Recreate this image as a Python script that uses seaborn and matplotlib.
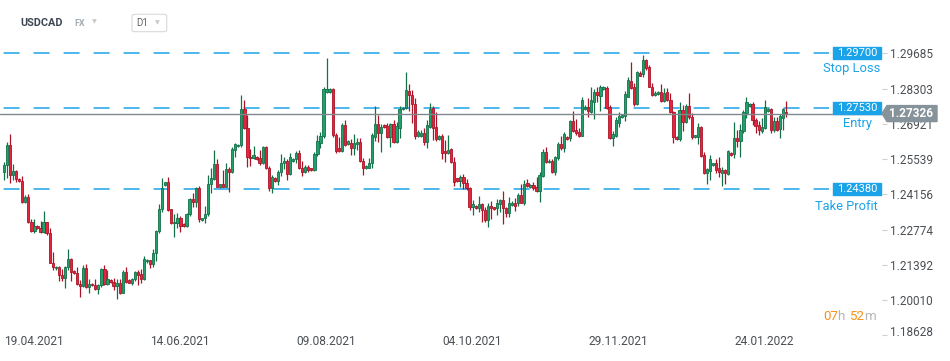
import numpy as np
import pandas as pd
import matplotlib
matplotlib.use("Agg")
import matplotlib.pyplot as plt
import matplotlib.transforms as mtransforms
import seaborn as sns
from matplotlib.patches import Rectangle, Polygon, FancyBboxPatch

# ---------------- data (USDCAD daily) ----------------
open_ = [
    1.2505, 1.2531, 1.2609, 1.2492, 1.2507, 1.2475,
    1.2470, 1.2387, 1.2404, 1.2309, 1.2273, 1.2293,
    1.2284, 1.2270, 1.2306, 1.2263, 1.2148, 1.2126,
    1.2132, 1.2098, 1.2089, 1.2132, 1.2161, 1.2115,
    1.2106, 1.2063, 1.2058, 1.2126, 1.2054, 1.2066,
    1.2060, 1.2043, 1.2060, 1.2123, 1.2064, 1.2080,
    1.2072, 1.2056, 1.2067, 1.2030, 1.2110, 1.2080,
    1.2070, 1.2084, 1.2110, 1.2105, 1.2086, 1.2155,
    1.2158, 1.2141, 1.2187, 1.2272, 1.2357, 1.2454,
    1.2463, 1.2357, 1.2302, 1.2305, 1.2322, 1.2300,
    1.2292, 1.2339, 1.2396, 1.2387, 1.2442, 1.2314,
    1.2322, 1.2339, 1.2455, 1.2475, 1.2534, 1.2445,
    1.2455, 1.2446, 1.2514, 1.2505, 1.2590, 1.2605,
    1.2610, 1.2749, 1.2675, 1.2561, 1.2557, 1.2564,
    1.2560, 1.2540, 1.2600, 1.2518, 1.2442, 1.2480,
    1.2468, 1.2502, 1.2537, 1.2547, 1.2494, 1.2546,
    1.2555, 1.2577, 1.2518, 1.2502, 1.2523, 1.2518,
    1.2510, 1.2574, 1.2618, 1.2643, 1.2817, 1.2818,
    1.2829, 1.2648, 1.2596, 1.2587, 1.2686, 1.2612,
    1.2616, 1.2599, 1.2614, 1.2621, 1.2548, 1.2520,
    1.2520, 1.2539, 1.2642, 1.2692, 1.2658, 1.2686,
    1.2684, 1.2642, 1.2692, 1.2622, 1.2677, 1.2750,
    1.2753, 1.2821, 1.2805, 1.2769, 1.2646, 1.2645,
    1.2655, 1.2622, 1.2680, 1.2753, 1.2679, 1.2634,
    1.2645, 1.2586, 1.2577, 1.2594, 1.2544, 1.2479,
    1.2469, 1.2484, 1.2459, 1.2439, 1.2365, 1.2372,
    1.2361, 1.2378, 1.2354, 1.2315, 1.2370, 1.2365,
    1.2361, 1.2378, 1.2394, 1.2364, 1.2341, 1.2374,
    1.2384, 1.2381, 1.2413, 1.2383, 1.2459, 1.2445,
    1.2452, 1.2446, 1.2430, 1.2488, 1.2581, 1.2541,
    1.2545, 1.2505, 1.2557, 1.2613, 1.2596, 1.2642,
    1.2638, 1.2703, 1.2668, 1.2659, 1.2646, 1.2750,
    1.2760, 1.2740, 1.2779, 1.2817, 1.2801, 1.2828,
    1.2831, 1.2760, 1.2638, 1.2645, 1.2697, 1.2720,
    1.2723, 1.2799, 1.2860, 1.2838, 1.2770, 1.2893,
    1.2886, 1.2943, 1.2916, 1.2838, 1.2805, 1.2810,
    1.2818, 1.2783, 1.2816, 1.2786, 1.2737, 1.2642,
    1.2631, 1.2746, 1.2700, 1.2762, 1.2720, 1.2639,
    1.2642, 1.2679, 1.2570, 1.2501, 1.2509, 1.2530,
    1.2537, 1.2520, 1.2501, 1.2511, 1.2494, 1.2577,
    1.2573, 1.2637, 1.2626, 1.2664, 1.2735, 1.2762,
    1.2770, 1.2707, 1.2688, 1.2666, 1.2675, 1.2743,
    1.2749, 1.2668, 1.2703, 1.2671, 1.2714, 1.2739,
]
high = [
    1.2544, 1.2622, 1.2652, 1.2535, 1.2511, 1.2480,
    1.2488, 1.2413, 1.2417, 1.2319, 1.2319, 1.2296,
    1.2313, 1.2349, 1.2309, 1.2286, 1.2190, 1.2135,
    1.2135, 1.2122, 1.2135, 1.2200, 1.2165, 1.2118,
    1.2132, 1.2080, 1.2138, 1.2143, 1.2083, 1.2070,
    1.2083, 1.2063, 1.2127, 1.2139, 1.2119, 1.2085,
    1.2088, 1.2085, 1.2086, 1.2119, 1.2130, 1.2083,
    1.2090, 1.2115, 1.2119, 1.2122, 1.2175, 1.2162,
    1.2160, 1.2202, 1.2277, 1.2378, 1.2479, 1.2466,
    1.2484, 1.2360, 1.2337, 1.2341, 1.2330, 1.2305,
    1.2341, 1.2400, 1.2420, 1.2446, 1.2450, 1.2325,
    1.2370, 1.2492, 1.2518, 1.2590, 1.2554, 1.2457,
    1.2511, 1.2537, 1.2524, 1.2603, 1.2617, 1.2614,
    1.2805, 1.2786, 1.2727, 1.2592, 1.2605, 1.2567,
    1.2590, 1.2605, 1.2605, 1.2527, 1.2492, 1.2484,
    1.2511, 1.2574, 1.2564, 1.2555, 1.2579, 1.2560,
    1.2586, 1.2590, 1.2547, 1.2530, 1.2530, 1.2520,
    1.2581, 1.2648, 1.2659, 1.2835, 1.2950, 1.2832,
    1.2834, 1.2655, 1.2642, 1.2696, 1.2707, 1.2628,
    1.2634, 1.2652, 1.2637, 1.2635, 1.2560, 1.2532,
    1.2560, 1.2655, 1.2762, 1.2727, 1.2690, 1.2690,
    1.2694, 1.2697, 1.2707, 1.2701, 1.2762, 1.2760,
    1.2896, 1.2848, 1.2825, 1.2792, 1.2670, 1.2668,
    1.2675, 1.2707, 1.2773, 1.2762, 1.2737, 1.2648,
    1.2651, 1.2629, 1.2648, 1.2599, 1.2564, 1.2482,
    1.2492, 1.2496, 1.2475, 1.2446, 1.2394, 1.2376,
    1.2409, 1.2383, 1.2368, 1.2381, 1.2390, 1.2368,
    1.2396, 1.2399, 1.2429, 1.2368, 1.2404, 1.2388,
    1.2400, 1.2420, 1.2456, 1.2472, 1.2475, 1.2455,
    1.2466, 1.2485, 1.2503, 1.2592, 1.2600, 1.2553,
    1.2553, 1.2567, 1.2620, 1.2643, 1.2659, 1.2645,
    1.2707, 1.2743, 1.2711, 1.2675, 1.2796, 1.2765,
    1.2792, 1.2838, 1.2830, 1.2838, 1.2845, 1.2840,
    1.2841, 1.2766, 1.2664, 1.2720, 1.2740, 1.2730,
    1.2821, 1.2875, 1.2935, 1.2854, 1.2901, 1.2898,
    1.2962, 1.2948, 1.2922, 1.2854, 1.2820, 1.2822,
    1.2850, 1.2831, 1.2831, 1.2814, 1.2743, 1.2645,
    1.2779, 1.2766, 1.2769, 1.2814, 1.2733, 1.2650,
    1.2697, 1.2684, 1.2581, 1.2520, 1.2569, 1.2540,
    1.2554, 1.2561, 1.2524, 1.2514, 1.2590, 1.2581,
    1.2701, 1.2668, 1.2690, 1.2746, 1.2799, 1.2776,
    1.2779, 1.2714, 1.2705, 1.2714, 1.2786, 1.2755,
    1.2753, 1.2718, 1.2718, 1.2730, 1.2756, 1.2782,
]
low = [
    1.2472, 1.2479, 1.2459, 1.2472, 1.2466, 1.2466,
    1.2381, 1.2381, 1.2305, 1.2270, 1.2266, 1.2279,
    1.2266, 1.2263, 1.2256, 1.2145, 1.2119, 1.2120,
    1.2077, 1.2077, 1.2047, 1.2119, 1.2077, 1.2104,
    1.2059, 1.2012, 1.2054, 1.2047, 1.2028, 1.2055,
    1.2041, 1.2025, 1.2054, 1.2060, 1.2060, 1.2068,
    1.2041, 1.2007, 1.2025, 1.2028, 1.2070, 1.2068,
    1.2060, 1.2075, 1.2059, 1.2070, 1.2080, 1.2148,
    1.2128, 1.2132, 1.2156, 1.2263, 1.2348, 1.2450,
    1.2352, 1.2298, 1.2250, 1.2283, 1.2270, 1.2288,
    1.2289, 1.2332, 1.2365, 1.2368, 1.2309, 1.2310,
    1.2302, 1.2330, 1.2422, 1.2472, 1.2443, 1.2442,
    1.2443, 1.2443, 1.2426, 1.2500, 1.2561, 1.2600,
    1.2603, 1.2671, 1.2524, 1.2527, 1.2554, 1.2550,
    1.2531, 1.2535, 1.2515, 1.2430, 1.2422, 1.2465,
    1.2452, 1.2488, 1.2514, 1.2472, 1.2492, 1.2542,
    1.2537, 1.2514, 1.2489, 1.2501, 1.2502, 1.2508,
    1.2509, 1.2566, 1.2599, 1.2635, 1.2812, 1.2815,
    1.2642, 1.2579, 1.2583, 1.2582, 1.2605, 1.2610,
    1.2570, 1.2570, 1.2590, 1.2544, 1.2492, 1.2516,
    1.2518, 1.2519, 1.2625, 1.2622, 1.2583, 1.2675,
    1.2638, 1.2603, 1.2618, 1.2618, 1.2638, 1.2745,
    1.2750, 1.2744, 1.2697, 1.2634, 1.2640, 1.2640,
    1.2609, 1.2596, 1.2675, 1.2629, 1.2626, 1.2630,
    1.2556, 1.2544, 1.2573, 1.2537, 1.2449, 1.2466,
    1.2446, 1.2435, 1.2433, 1.2354, 1.2335, 1.2358,
    1.2348, 1.2309, 1.2309, 1.2289, 1.2319, 1.2354,
    1.2335, 1.2348, 1.2300, 1.2328, 1.2328, 1.2370,
    1.2352, 1.2370, 1.2381, 1.2374, 1.2446, 1.2440,
    1.2433, 1.2426, 1.2387, 1.2484, 1.2537, 1.2538,
    1.2501, 1.2492, 1.2551, 1.2590, 1.2583, 1.2630,
    1.2626, 1.2662, 1.2648, 1.2642, 1.2645, 1.2745,
    1.2720, 1.2736, 1.2713, 1.2779, 1.2744, 1.2825,
    1.2749, 1.2633, 1.2605, 1.2639, 1.2679, 1.2715,
    1.2703, 1.2796, 1.2828, 1.2762, 1.2766, 1.2878,
    1.2876, 1.2903, 1.2835, 1.2801, 1.2800, 1.2805,
    1.2778, 1.2778, 1.2782, 1.2733, 1.2618, 1.2628,
    1.2626, 1.2666, 1.2696, 1.2713, 1.2631, 1.2635,
    1.2613, 1.2564, 1.2496, 1.2455, 1.2472, 1.2526,
    1.2501, 1.2485, 1.2449, 1.2455, 1.2492, 1.2565,
    1.2557, 1.2600, 1.2561, 1.2655, 1.2714, 1.2758,
    1.2688, 1.2655, 1.2648, 1.2658, 1.2671, 1.2740,
    1.2658, 1.2662, 1.2666, 1.2638, 1.2668, 1.2720,
]
close = [
    1.2531, 1.2609, 1.2492, 1.2507, 1.2475, 1.2470,
    1.2387, 1.2404, 1.2309, 1.2273, 1.2293, 1.2284,
    1.2270, 1.2306, 1.2263, 1.2148, 1.2132, 1.2132,
    1.2098, 1.2089, 1.2132, 1.2161, 1.2113, 1.2106,
    1.2063, 1.2058, 1.2126, 1.2054, 1.2064, 1.2060,
    1.2043, 1.2060, 1.2123, 1.2064, 1.2083, 1.2072,
    1.2056, 1.2067, 1.2030, 1.2110, 1.2073, 1.2070,
    1.2084, 1.2110, 1.2100, 1.2086, 1.2161, 1.2160,
    1.2141, 1.2187, 1.2272, 1.2357, 1.2439, 1.2463,
    1.2354, 1.2302, 1.2309, 1.2322, 1.2293, 1.2292,
    1.2339, 1.2396, 1.2387, 1.2442, 1.2319, 1.2322,
    1.2339, 1.2455, 1.2480, 1.2534, 1.2446, 1.2455,
    1.2446, 1.2514, 1.2505, 1.2594, 1.2612, 1.2610,
    1.2749, 1.2675, 1.2561, 1.2557, 1.2569, 1.2553,
    1.2540, 1.2600, 1.2518, 1.2442, 1.2484, 1.2468,
    1.2502, 1.2537, 1.2547, 1.2494, 1.2561, 1.2555,
    1.2577, 1.2518, 1.2502, 1.2523, 1.2510, 1.2510,
    1.2574, 1.2625, 1.2643, 1.2828, 1.2828, 1.2828,
    1.2648, 1.2587, 1.2587, 1.2686, 1.2609, 1.2624,
    1.2599, 1.2616, 1.2621, 1.2548, 1.2520, 1.2529,
    1.2539, 1.2648, 1.2692, 1.2658, 1.2681, 1.2679,
    1.2642, 1.2692, 1.2622, 1.2684, 1.2750, 1.2755,
    1.2825, 1.2805, 1.2769, 1.2646, 1.2659, 1.2655,
    1.2622, 1.2686, 1.2750, 1.2675, 1.2633, 1.2645,
    1.2579, 1.2577, 1.2590, 1.2544, 1.2466, 1.2469,
    1.2484, 1.2459, 1.2439, 1.2365, 1.2378, 1.2361,
    1.2378, 1.2354, 1.2315, 1.2370, 1.2361, 1.2357,
    1.2381, 1.2394, 1.2361, 1.2341, 1.2381, 1.2384,
    1.2371, 1.2413, 1.2383, 1.2456, 1.2450, 1.2452,
    1.2439, 1.2430, 1.2492, 1.2581, 1.2541, 1.2548,
    1.2505, 1.2562, 1.2613, 1.2596, 1.2651, 1.2634,
    1.2703, 1.2664, 1.2655, 1.2646, 1.2786, 1.2760,
    1.2744, 1.2784, 1.2817, 1.2804, 1.2838, 1.2835,
    1.2753, 1.2638, 1.2651, 1.2707, 1.2723, 1.2727,
    1.2809, 1.2864, 1.2831, 1.2770, 1.2896, 1.2881,
    1.2943, 1.2910, 1.2838, 1.2805, 1.2814, 1.2817,
    1.2783, 1.2812, 1.2786, 1.2737, 1.2642, 1.2631,
    1.2746, 1.2698, 1.2762, 1.2720, 1.2639, 1.2647,
    1.2679, 1.2567, 1.2501, 1.2515, 1.2554, 1.2537,
    1.2511, 1.2505, 1.2511, 1.2498, 1.2586, 1.2569,
    1.2638, 1.2626, 1.2668, 1.2737, 1.2778, 1.2770,
    1.2707, 1.2684, 1.2668, 1.2679, 1.2758, 1.2749,
    1.2668, 1.2703, 1.2668, 1.2723, 1.2749, 1.2733,
]

date_labels = ["19.04.2021", "14.06.2021", "09.08.2021",
               "04.10.2021", "29.11.2021", "24.01.2022"]
price_ticks = [1.18628, 1.20010, 1.21392, 1.22774, 1.24156,
               1.25539, 1.26921, 1.28303, 1.29685]
level_names = ["Stop Loss", "Entry", "Take Profit"]
level_values = [1.29700, 1.27530, 1.24380]
current_price = 1.27326
symbol, market, timeframe = "USDCAD", "FX", "D1"
countdown_h, countdown_m = "07", "52"

# ---------------- style ----------------
sns.set_theme(style="white")
plt.rcParams["font.family"] = ["Roboto", "DejaVu Sans"]
plt.rcParams["lines.scale_dashes"] = False

GREEN, GREEN_E = "#22a06b", "#137049"
RED, RED_E = "#e3263d", "#ad1327"
BLUE = "#1aa3e8"
GREY_BOX = "#87939a"
TXT = "#4a4f54"

n = len(close)
days = pd.date_range("2021-04-18", periods=420, freq="D")
days = days[days.dayofweek != 5]           # broker shows Sunday candles
days = days[days >= "2021-04-19"][:n]
df = pd.DataFrame({"date": days, "open": open_, "high": high,
                   "low": low, "close": close})
df["x"] = np.arange(n)
df["up"] = df["close"] >= df["open"]

W, H = 950, 361
fig = plt.figure(figsize=(W / 100, H / 100), dpi=100)
AX_R = 882
ax = fig.add_axes([0, 1 - 336 / H, AX_R / W, 296 / H])
PX = 0.000392                       # price per pixel
ax.set_ylim(1.3021 - 296 * PX, 1.3021)
step = 3.043
ax.set_xlim(-4 / step, (AX_R - 4) / step)

# candles
edge = np.where(df["up"], GREEN_E, RED_E)
fill = np.where(df["up"], GREEN, RED)
ax.vlines(df["x"], df["low"], df["high"], colors=edge, linewidth=0.9, zorder=2)
body_lo = np.minimum(df["open"], df["close"])
body_h = np.maximum((df["close"] - df["open"]).abs(), 0.00028)
ax.bar(df["x"], body_h, bottom=body_lo, width=0.74, color=fill,
       edgecolor=edge, linewidth=0.6, zorder=3)

trans = ax.get_yaxis_transform()
# level lines
line_end = (829 - 4) / step
for name, v, cx, dy in zip(level_names, level_values, [852, 858, 846.5],
                           [15.5, 15.5, 17.5]):
    ax.plot([ax.get_xlim()[0], line_end], [v, v], color=BLUE, lw=1.1,
            linestyle=(19, (11.5, 10.1)), zorder=1)
    ax.add_patch(Rectangle((833 / AX_R, v - 6 * PX), 48 / AX_R, 12 * PX,
                           transform=trans, color=BLUE, clip_on=False, zorder=6))
    ax.text(857 / AX_R, v, f"{v:.5f}", transform=trans, ha="center",
            va="center", color="white", fontsize=8, zorder=7, clip_on=False)
    ax.text(cx / AX_R, v - dy * PX, name, transform=trans, ha="center",
            va="center", color=BLUE, fontsize=9.3, zorder=7, clip_on=False)

# current price
ax.plot(ax.get_xlim(), [current_price, current_price], color="#7d878c",
        lw=1.0, zorder=4)
poly = [(882 / AX_R, current_price), (887 / AX_R, current_price + 8 * PX),
        (937 / AX_R, current_price + 8 * PX), (937 / AX_R, current_price - 8 * PX),
        (887 / AX_R, current_price - 8 * PX)]
ax.add_patch(Polygon(poly, closed=True, transform=trans, color=GREY_BOX,
                     clip_on=False, zorder=6))
ax.text(911.5 / AX_R, current_price, f"{current_price:.5f}", transform=trans,
        ha="center", va="center", color="white", fontsize=8.5,
        fontweight="bold", zorder=7, clip_on=False)

# axes
ax.yaxis.tick_right()
ax.set_yticks(price_ticks, [f"{v:.5f}" for v in price_ticks])
ax.tick_params(axis="y", length=3.6, width=0.8, color="#d0d0d0", pad=2.2,
               labelsize=8.5, labelcolor=TXT, direction="out")
tick_pos = [int(df.index[df["date"].dt.strftime("%d.%m.%Y") == d][0])
            for d in date_labels]
ax.set_xticks(tick_pos, date_labels)
for lbl in ax.get_xticklabels():
    lbl.set_horizontalalignment("left")
ax.tick_params(axis="x", length=3, width=0.8, color="#e6e6e6", pad=-1.0,
               labelsize=8.6, labelcolor=TXT, direction="in")
ax.grid(False)
sns.despine(ax=ax, left=True, bottom=True, right=True, top=True)

# lowest price label is nudged up a little, as in the terminal
for lbl in ax.yaxis.get_majorticklabels():
    if lbl.get_text() == f"{price_ticks[0]:.5f}":
        lbl.set_transform(lbl.get_transform() +
                          mtransforms.ScaledTranslation(0, 4.5 / 100, fig.dpi_scale_trans))

# header
fig.text(20.7 / W, 1 - 23.3 / H, symbol, fontsize=7.8, fontweight="bold",
         color="#3c4650", va="center")
fig.text(74 / W, 1 - 24 / H, market, fontsize=6.5, fontweight="bold",
         color="#a3adb4", va="center")
fig.text(92 / W, 1 - 21.5 / H, "▼", family="DejaVu Sans", fontsize=4.5,
         color="#c8c8c8", va="center")
fig.patches.append(FancyBboxPatch((132 / W, 1 - 31.7 / H), 34.7 / W, 17.4 / H,
                                  boxstyle="round,pad=0,rounding_size=0.004",
                                  transform=fig.transFigure, fc="white",
                                  ec="#d9d9d9", lw=0.8, figure=fig))
fig.text(136 / W, 1 - 23.5 / H, timeframe, fontsize=7, color="#5f6368",
         va="center")
fig.text(155 / W, 1 - 23 / H, "▼", family="DejaVu Sans", fontsize=4.5,
         color="#c8c8c8", va="center")

# countdown: pieces chained one after another
ORANGE, LGREY = "#f6921e", "#b5b5b5"
prev = fig.text(823 / W, 1 - 316.5 / H, countdown_h, fontsize=9.6,
                color=ORANGE, va="center")
for piece, col in [("h ", LGREY), (countdown_m, ORANGE), ("m", LGREY)]:
    prev = ax.annotate(piece, xy=(1, 0.5), xycoords=prev, va="center",
                       ha="left", fontsize=9.6, color=col,
                       annotation_clip=False)

fig.savefig("out.png", dpi=100, facecolor="white")
